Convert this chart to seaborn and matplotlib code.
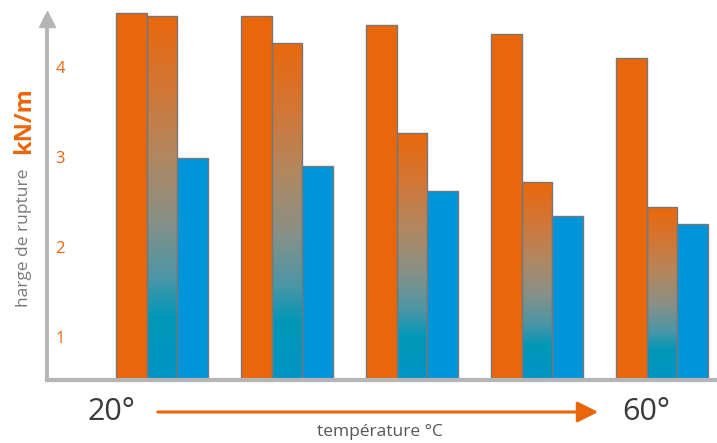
import numpy as np
import pandas as pd
import seaborn as sns
import matplotlib.pyplot as plt
from matplotlib.colors import LinearSegmentedColormap
from matplotlib.patches import FancyArrowPatch

# données
temperatures = ["20°", "30°", "40°", "50°", "60°"]
series = ["A", "B", "C"]
charge_a = [4.60, 4.57, 4.47, 4.37, 4.10]
charge_b = [4.57, 4.27, 3.27, 2.72, 2.44]
charge_c = [2.99, 2.90, 2.62, 2.34, 2.25]
yticks = [1, 2, 3, 4]

orange = "#EA660A"
bleu = "#0095DA"
gris = "#B5B5B5"

df = pd.DataFrame({
    "temperature": temperatures * 3,
    "serie": ["A"] * 5 + ["B"] * 5 + ["C"] * 5,
    "charge": charge_a + charge_b + charge_c,
})

sns.set_style("white")
plt.rcParams['font.family'] = ['Open Sans', 'DejaVu Sans']

fig = plt.figure(figsize=(7.17, 4.43), dpi=100)
ax = fig.add_axes([47 / 717, 63 / 443, 670 / 717, 380 / 443])

sns.barplot(data=df, x="temperature", y="charge", hue="serie", hue_order=series,
            palette=[orange, orange, bleu], saturation=1, width=0.73, edgecolor="#777777",
            linewidth=1, legend=False, ax=ax, zorder=2)

ymin, ymax = 0.522, 4.744

# dégradé orange -> bleu sur la série du milieu
grad = LinearSegmentedColormap.from_list("grad", [
    (0.0, "#0094C6"), (0.17, "#0097B8"), (0.21, "#1A97B2"), (0.28, "#4B96A6"),
    (0.44, "#8A9086"), (0.62, "#B3875E"), (0.8, "#D27636"), (1.0, "#E9680C")])
for patch in ax.containers[1]:
    x0, w, h = patch.get_x(), patch.get_width(), patch.get_height()
    patch.set_facecolor("none")
    img = ax.imshow(np.linspace(0, 1, 256).reshape(-1, 1), cmap=grad, origin="lower",
                    extent=[x0, x0 + w, ymin, h], aspect="auto", zorder=1.5)
    img.set_clip_path(patch)

ax.set_xlim(-0.92, 4.44)
ax.set_ylim(ymin, ymax)
ax.set_xlabel("")
ax.set_ylabel("")
ax.set_xticks([])
ax.set_yticks(yticks)
ax.set_yticklabels([str(t) for t in yticks])
ax.tick_params(axis="y", length=0, pad=-6, labelsize=12, labelcolor=orange)
for lab in ax.get_yticklabels():
    lab.set_horizontalalignment("left")

for s in ["top", "right"]:
    ax.spines[s].set_visible(False)
ax.spines["left"].set_color(gris)
ax.spines["left"].set_linewidth(2.8)
ax.spines["left"].set_bounds(ymin, 4.45)
ax.spines["bottom"].set_color(gris)
ax.spines["bottom"].set_linewidth(3)
ax.plot([0], [4.53], marker="^", markersize=11, color=gris, transform=ax.get_yaxis_transform(),
        clip_on=False, zorder=5)

# légende de l'axe y
fig.text(24 / 717, 1 - 238 / 443, "harge de rupture", rotation=90, ha="center", va="center",
         fontsize=12.5, color="#7A7A7A")
fig.text(24 / 717, 1 - 121 / 443, "kN/m", rotation=90, ha="center", va="center",
         fontsize=17, fontweight="bold", color=orange)

# axe des températures
fig.text(111 / 717, 1 - 412 / 443, "20°", ha="center", va="center", fontsize=22, color="#3A3A3A")
fig.text(646 / 717, 1 - 412 / 443, "60°", ha="center", va="center", fontsize=22, color="#3A3A3A")
fig.text(380 / 717, 1 - 432 / 443, "température °C", ha="center", va="center", fontsize=12.5,
         color="#555555")
fig.add_artist(FancyArrowPatch(
    (155 / 717, 1 - 412 / 443), (601 / 717, 1 - 412 / 443), transform=fig.transFigure,
    arrowstyle="-|>,head_length=0.9,head_width=0.45", mutation_scale=14, color=orange, linewidth=2.2))

fig.savefig("out.png", dpi=100)
